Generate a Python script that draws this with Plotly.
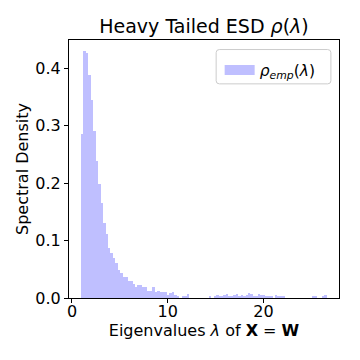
import plotly.graph_objects as go

# histogram of eigenvalues: 100 equal bins from lam_min to lam_max, density normalised
lam_min = 0.94
lam_max = 26.6
n_bins = 100
density = [
    0.285, 0.429, 0.427, 0.388, 0.345, 0.290, 0.239, 0.199, 0.165, 0.130,
    0.112, 0.087, 0.078, 0.070, 0.061, 0.049, 0.043, 0.036, 0.036, 0.030,
    0.029, 0.024, 0.019, 0.023, 0.022, 0.019, 0.019, 0.013, 0.013, 0.019,
    0.011, 0.013, 0.011, 0.010, 0.011, 0.006, 0.008, 0.010, 0.006, 0.004,
    0.000, 0.002, 0.002, 0.007, 0.000, 0.000, 0.000, 0.000, 0.000, 0.000,
    0.000, 0.000, 0.002, 0.000, 0.004, 0.005, 0.002, 0.002, 0.005, 0.007,
    0.004, 0.002, 0.005, 0.007, 0.002, 0.005, 0.002, 0.005, 0.009, 0.007,
    0.003, 0.002, 0.007, 0.005, 0.005, 0.002, 0.002, 0.002, 0.000, 0.005,
    0.002, 0.002, 0.002, 0.000, 0.000, 0.000, 0.000, 0.000, 0.000, 0.000,
    0.000, 0.000, 0.000, 0.000, 0.002, 0.002, 0.000, 0.000, 0.002, 0.005,
]
x_ticks = [0, 10, 20]
y_ticks = [0.0, 0.1, 0.2, 0.3, 0.4]

width = (lam_max - lam_min) / n_bins
centers = [lam_min + width * (i + 0.5) for i in range(n_bins)]

FONT = "DejaVu Sans"
BAR = "rgb(191,191,255)"

fig = go.Figure()
fig.add_trace(go.Bar(
    x=centers,
    y=density,
    width=[width] * n_bins,
    marker=dict(color=BAR, line=dict(width=0)),
    showlegend=False,
))
# legend entry drawn as a thick line so the swatch is a wide patch like matplotlib's
fig.add_trace(go.Scatter(
    x=[None], y=[None], mode="lines",
    line=dict(color=BAR, width=12),
    name="<i>ρ</i><sub><i>emp</i></sub>(<i>λ</i>)",
    showlegend=True,
))

axis_common = dict(
    showline=True, linecolor="black", linewidth=1, mirror=True,
    ticks="outside", ticklen=4, tickcolor="black", tickwidth=1,
    showgrid=False, zeroline=False, automargin=False,
    tickfont=dict(family=FONT, size=16, color="black"),
)

# rounded legend frame (paper coords)
x0, x1, y0, y1, r = 0.545, 0.97, 0.83, 0.963, 0.012
legend_frame = (
    f"M {x0+r},{y0} L {x1-r},{y0} Q {x1},{y0} {x1},{y0+r} "
    f"L {x1},{y1-r} Q {x1},{y1} {x1-r},{y1} L {x0+r},{y1} "
    f"Q {x0},{y1} {x0},{y1-r} L {x0},{y0+r} Q {x0},{y0} {x0+r},{y0} Z"
)

fig.update_layout(
    width=360, height=360,
    margin=dict(l=69, r=21, t=40, b=62),
    paper_bgcolor="white", plot_bgcolor="white",
    bargap=0,
    font=dict(family=FONT, color="black"),
    title=dict(
        text="Heavy Tailed ESD <i>ρ</i>(<i>λ</i>)",
        x=0.5, xref="paper", xanchor="center", y=0.928, yanchor="middle",
        font=dict(family=FONT, size=19, color="black"),
    ),
    xaxis=dict(
        axis_common, range=[-0.31, 27.9], tickvals=x_ticks,
        ticklabelstandoff=-5,
        title=dict(text="Eigenvalues <i>λ</i> of <b>X</b> = <b>W</b>",
                   font=dict(family=FONT, size=16), standoff=0),
    ),
    yaxis=dict(
        axis_common, range=[0, 0.449], tickvals=y_ticks, tickformat=".1f",
        title=dict(text="Spectral Density", font=dict(family=FONT, size=16), standoff=2),
    ),
    shapes=[dict(type="path", xref="paper", yref="paper", path=legend_frame,
                 fillcolor="white", line=dict(color="#cccccc", width=1),
                 layer="above")],
    legend=dict(
        x=0.558, y=0.948, xanchor="left", yanchor="top",
        bgcolor="rgba(0,0,0,0)", borderwidth=0, itemwidth=30,
        font=dict(family=FONT, size=15.5),
    ),
)

fig.write_html("out.html", config={"displayModeBar": False},
               post_script="document.body.style.margin='0';")
